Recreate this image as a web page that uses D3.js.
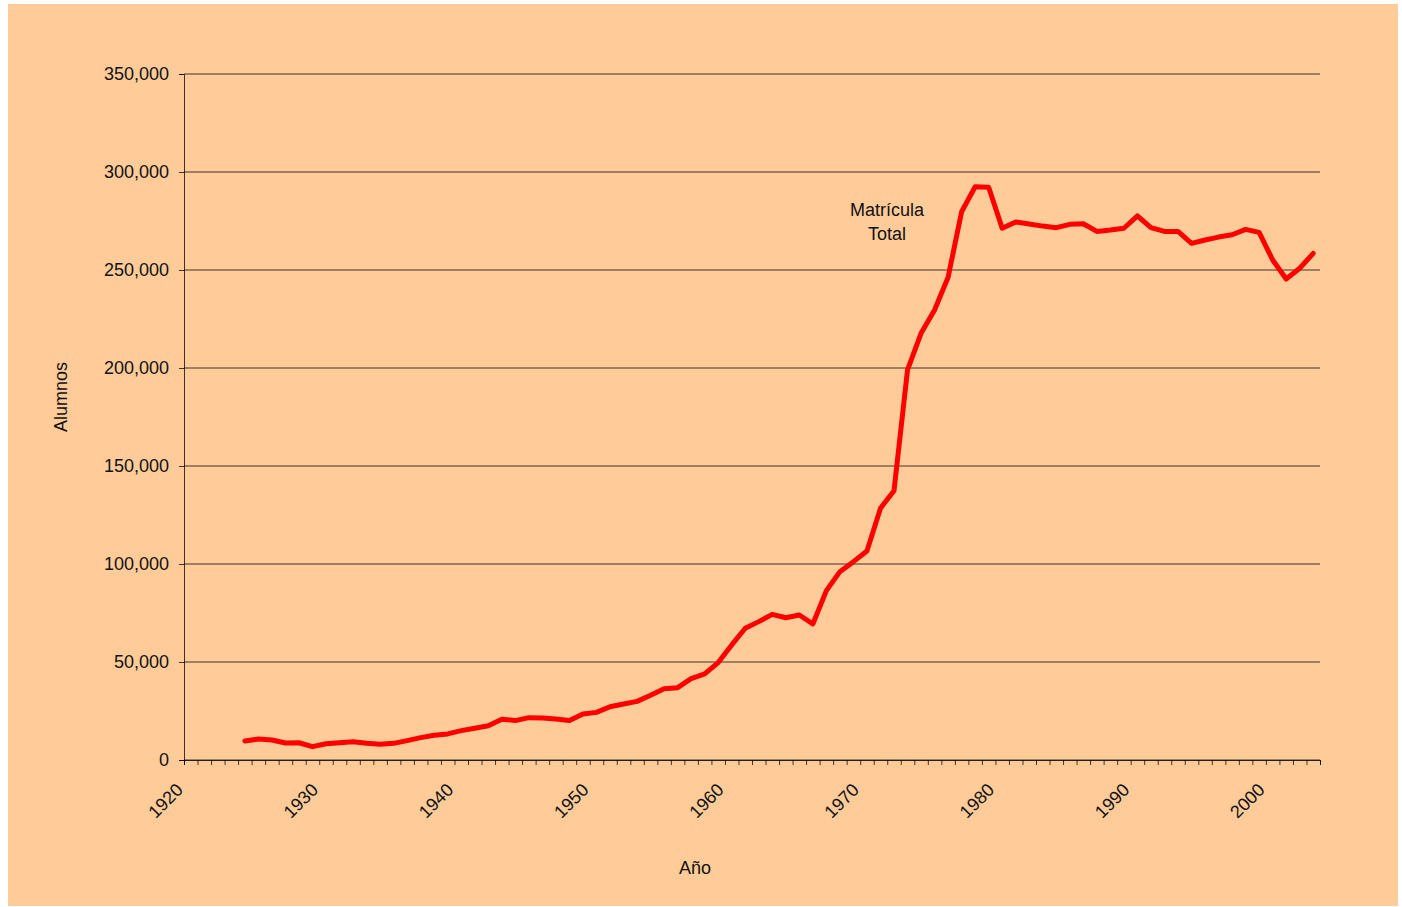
<!DOCTYPE html>
<html>
<head>
<meta charset="utf-8">
<script src="https://cdn.jsdelivr.net/npm/d3@7"></script>
<style>
  html, body { margin: 0; padding: 0; background: #ffffff; }
  svg { display: block; }
</style>
</head>
<body>
<div id="chart"></div>
<script>
// Matrícula total por año (alumnos). Points sit in the middle of each year band.
var years = [1924, 1925, 1926, 1927, 1928, 1929, 1930, 1931, 1932, 1933,
  1934, 1935, 1936, 1937, 1938, 1939, 1940, 1941, 1942, 1943,
  1944, 1945, 1946, 1947, 1948, 1949, 1950, 1951, 1952, 1953,
  1954, 1955, 1956, 1957, 1958, 1959, 1960, 1961, 1962, 1963,
  1964, 1965, 1966, 1967, 1968, 1969, 1970, 1971, 1972, 1973,
  1974, 1975, 1976, 1977, 1978, 1979, 1980, 1981, 1982, 1983,
  1984, 1985, 1986, 1987, 1988, 1989, 1990, 1991, 1992, 1993,
  1994, 1995, 1996, 1997, 1998, 1999, 2000, 2001, 2002, 2003];
var matricula = [9700, 10700, 10200, 8700, 8800, 6800, 8300, 8800, 9300, 8500,
  8000, 8500, 9900, 11400, 12600, 13300, 15000, 16200, 17500, 20800,
  20100, 21600, 21400, 20900, 20100, 23500, 24300, 27200, 28600, 29900,
  33000, 36400, 36900, 41500, 43900, 49700, 58700, 67200, 70600, 74300,
  72600, 74000, 69400, 86400, 96100, 101200, 106600, 128400, 137400, 199000,
  217700, 229600, 246300, 279700, 292500, 292200, 271300, 274500, 273500, 272400,
  271600, 273300, 273600, 269700, 270400, 271300, 277600, 271600, 269700, 269700,
  263600, 265300, 266800, 268000, 270700, 269200, 255100, 245400, 250900, 258500];
var yTicks = [0, 50000, 100000, 150000, 200000, 250000, 300000, 350000];
var xLabels = [1920, 1930, 1940, 1950, 1960, 1970, 1980, 1990, 2000];
var xDomain = [1920, 2004];
var seriesLabel = ["Matrícula", "Total"];

var W = 1402, H = 907;
var m = { t: 74, r: 82, b: 147, l: 184 };
var FONT = "Arial, 'Liberation Sans', sans-serif";
var BG = "#ffcc99", RED = "#ff0000", INK = "#000000";

var x = d3.scaleLinear().domain(xDomain).range([m.l, W - m.r]);
var y = d3.scaleLinear().domain([0, 350000]).range([H - m.b, m.t]);

var svg = d3.select("#chart").append("svg").attr("width", W).attr("height", H);
svg.append("rect").attr("x", 8).attr("y", 4).attr("width", 1390).attr("height", 902).attr("fill", BG);

// horizontal gridlines
var grid = svg.append("g");
yTicks.forEach(function (t) {
  grid.append("line").attr("x1", x(xDomain[0])).attr("x2", x(xDomain[1]))
    .attr("y1", y(t)).attr("y2", y(t)).attr("stroke", INK).attr("stroke-opacity", 0.75).attr("stroke-width", 1);
});

// y axis
var yAxis = d3.axisLeft(y).tickValues(yTicks).tickSize(5).tickPadding(10)
  .tickFormat(d3.format(","));
var gy = svg.append("g").attr("transform", "translate(" + x(xDomain[0]) + ",0)").call(yAxis);
gy.select(".domain").attr("stroke", INK).attr("stroke-opacity", 0.75);
gy.selectAll(".tick line").attr("stroke", INK).attr("stroke-opacity", 0.75);
gy.selectAll("text").attr("font-family", FONT).attr("font-size", 18).attr("fill", "#111");

// x axis: a tick every year, labels every decade, rotated
var yearTicks = d3.range(xDomain[0], xDomain[1] + 1);
var xAxis = d3.axisBottom(x).tickValues(yearTicks).tickSize(5).tickFormat("");
var gx = svg.append("g").attr("transform", "translate(0," + y(0) + ")").call(xAxis);
gx.select(".domain").attr("stroke", INK).attr("stroke-opacity", 0.75);
gx.selectAll(".tick line").attr("stroke", INK).attr("stroke-opacity", 0.75);
xLabels.forEach(function (yr) {
  svg.append("text").attr("transform", "translate(" + x(yr) + "," + (y(0) + 31) + ") rotate(-45)")
    .attr("text-anchor", "end").attr("font-family", FONT).attr("font-size", 18).attr("fill", "#111")
    .text(yr);
});

// axis titles
svg.append("text").attr("transform", "translate(67,397) rotate(-90)")
  .attr("text-anchor", "middle").attr("font-family", FONT).attr("font-size", 18).attr("fill", "#111").text("Alumnos");
svg.append("text").attr("x", 695).attr("y", 874)
  .attr("text-anchor", "middle").attr("font-family", FONT).attr("font-size", 18).attr("fill", "#111").text("Año");

// series line
var data = years.map(function (yr, i) { return { yr: yr, v: matricula[i] }; });
var line = d3.line().x(function (d) { return x(d.yr + 0.5); }).y(function (d) { return y(d.v); });
svg.append("path").attr("d", line(data)).attr("fill", "none").attr("stroke", RED)
  .attr("stroke-width", 5).attr("stroke-linejoin", "round").attr("stroke-linecap", "round");

// series label
seriesLabel.forEach(function (s, i) {
  svg.append("text").attr("x", 887).attr("y", 216 + i * 24).attr("text-anchor", "middle")
    .attr("font-family", FONT).attr("font-size", 18).attr("fill", "#111").text(s);
});
</script>
</body>
</html>
